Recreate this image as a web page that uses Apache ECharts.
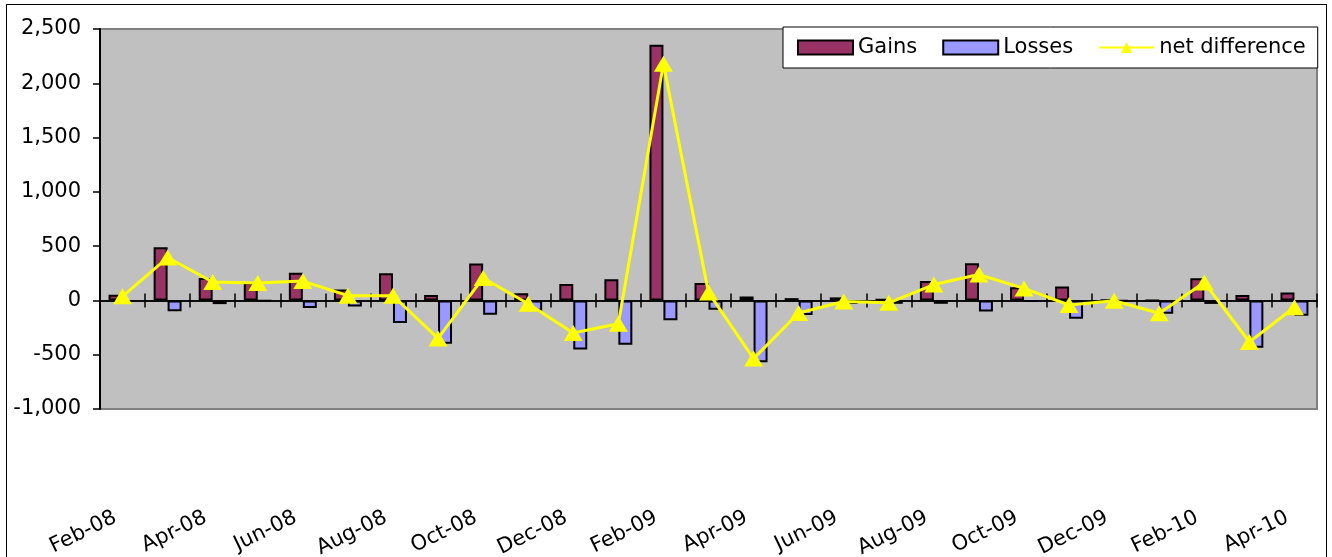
<!DOCTYPE html>
<html>
<head>
<meta charset="utf-8">
<script src="https://cdn.jsdelivr.net/npm/echarts@6/dist/echarts.min.js"></script>
<style>
html,body{margin:0;padding:0;background:#fff;overflow:hidden;width:1332px;height:557px;}
#frame{position:absolute;left:6px;top:4px;width:1321px;height:600px;border:1.5px solid #000;box-sizing:border-box;}
#chart{position:absolute;left:0;top:0;width:1332px;height:557px;}
</style>
</head>
<body>
<div id="frame"></div>
<div id="chart"></div>
<script>
var months = ['Feb-08','Mar-08','Apr-08','May-08','Jun-08','Jul-08','Aug-08','Sep-08','Oct-08','Nov-08','Dec-08','Jan-09',
  'Feb-09','Mar-09','Apr-09','May-09','Jun-09','Jul-09','Aug-09','Sep-09','Oct-09','Nov-09','Dec-09','Jan-10',
  'Feb-10','Mar-10','Apr-10'];
var gains = [52, 490, 206, 165, 255, 100, 250, 49, 340, 65, 152, 196,
  2355, 160, 37, 21, 28, 12, 180, 342, 122, 128, 4, 0,
  205, 49, 74];
var losses = [-12, -100, -34, -5, -70, -55, -208, -399, -132, -95, -452, -408,
  -183, -86, -570, -135, -32, -31, -31, -101, -9, -168, -6, -122,
  -32, -435, -140];
var netDiff = [38, 395, 170, 160, 178, 44, 43, -350, 207, -30, -300, -215,
  2180, 72, -536, -116, -10, -22, 146, 238, 111, -42, -3, -118,
  165, -383, -63];
var yTicks = {min: -1000, max: 2500, interval: 500};

var FONT = 'DejaVu Sans';
var chart = echarts.init(document.getElementById('chart'));
chart.setOption({
  animation: false,
  textStyle: {fontFamily: FONT, color: '#000'},
  grid: {left: 100, right: 15, top: 29, bottom: 148, show: true, outerBoundsMode: 'none', containLabel: false,
    backgroundColor: '#c0c0c0', borderColor: '#808080', borderWidth: 2},
  legend: {
    left: 783, top: 27,
    backgroundColor: '#fff', borderColor: '#000', borderWidth: 1,
    padding: [10, 12, 10, 14],
    itemWidth: 55, itemHeight: 14, itemGap: 25,
    textStyle: {fontFamily: FONT, fontSize: 21, color: '#000'},
    data: [{name: 'Gains', icon: 'rect'}, {name: 'Losses', icon: 'rect'}, {name: 'net difference'}]
  },
  xAxis: [
    {type: 'category', data: months, position: 'bottom', boundaryGap: true,
      axisLine: {show: true, onZero: true, onZeroAxisIndex: 0, lineStyle: {color: '#000', width: 1.5}},
      axisTick: {show: true, length: 7, interval: 0, lineStyle: {color: '#000', width: 1.5}},
      axisLabel: {show: false}, splitLine: {show: false}},
    {type: 'category', data: months, position: 'top', boundaryGap: true,
      axisLine: {show: true, onZero: true, onZeroAxisIndex: 1, lineStyle: {color: '#000', width: 1.5}},
      axisTick: {show: true, length: 7, interval: 0, lineStyle: {color: '#000', width: 1.5}},
      axisLabel: {show: false}, splitLine: {show: false}},
    {type: 'category', data: months, position: 'bottom', boundaryGap: true,
      axisLine: {show: false, onZero: false},
      axisTick: {show: false},
      axisLabel: {show: true, interval: 1, rotate: 26, margin: 104, fontFamily: FONT, fontSize: 21, color: '#000',
        padding: [0, 8, 0, 0]},
      splitLine: {show: false}}
  ],
  yAxis: [
    {type: 'value', min: yTicks.min, max: yTicks.max, interval: yTicks.interval,
      axisLine: {show: true, onZero: false, lineStyle: {color: '#000', width: 2}},
      axisTick: {show: true, length: 7, lineStyle: {color: '#000', width: 1.5}},
      axisLabel: {margin: 19, fontFamily: FONT, fontSize: 21, color: '#000',
        formatter: function (v) { return v.toLocaleString('en-US'); }},
      splitLine: {show: false}},
    {type: 'value', min: yTicks.min, max: yTicks.max, interval: yTicks.interval, show: false,
      splitLine: {show: false}}
  ],
  series: [
    {name: 'Gains', type: 'bar', xAxisIndex: 0, yAxisIndex: 0, data: gains,
      barWidth: '31%', barGap: '0%',
      itemStyle: {color: '#993366', borderColor: '#000', borderWidth: 2}},
    {name: 'Losses', type: 'bar', xAxisIndex: 0, yAxisIndex: 0, data: losses,
      barWidth: '31%', barGap: '0%',
      itemStyle: {color: '#9999ff', borderColor: '#000', borderWidth: 2}},
    {name: 'net difference', type: 'line', xAxisIndex: 0, yAxisIndex: 0, data: netDiff,
      symbol: 'triangle', symbolSize: [19, 16], z: 5,
      lineStyle: {color: '#ffff00', width: 3},
      itemStyle: {color: '#ffff00', borderWidth: 0}}
  ]
});
</script>
</body>
</html>
